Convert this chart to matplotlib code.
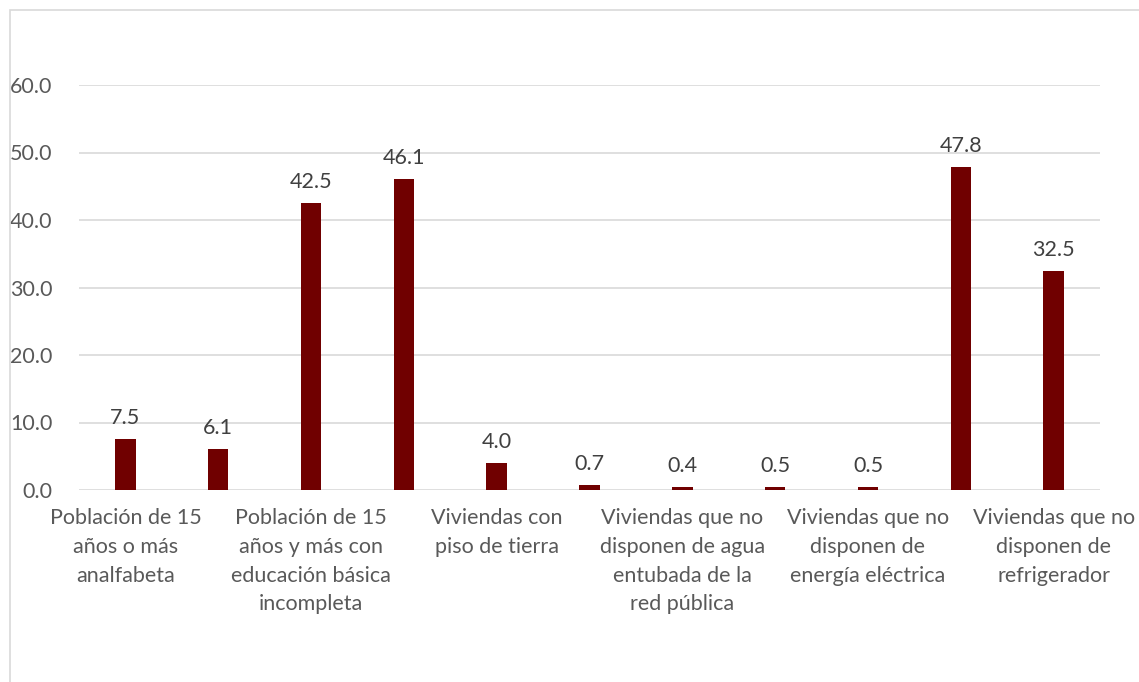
import matplotlib.pyplot as plt
from matplotlib.patches import Rectangle

# 11 categories; Excel only showed every other label
values = [7.5, 6.1, 42.5, 46.1, 4.0, 0.7, 0.4, 0.5, 0.5, 47.8, 32.5]
shown_labels = [
    "Población de 15\naños o más\nanalfabeta",
    "Población de 15\naños y más con\neducación básica\nincompleta",
    "Viviendas con\npiso de tierra",
    "Viviendas que no\ndisponen de agua\nentubada de la\nred pública",
    "Viviendas que no\ndisponen de\nenergía eléctrica",
    "Viviendas que no\ndisponen de\nrefrigerador",
]
yticks = [0, 10, 20, 30, 40, 50, 60]

bar_color = '#700000'
text_color = '#595959'
grid_color = '#d9d9d9'

plt.rcParams['font.family'] = ['Lato', 'DejaVu Sans']

fig = plt.figure(figsize=(11.39, 6.82), dpi=100)
W, H = 1139, 682
ax = fig.add_axes([79 / W, 1 - 490 / H, (1100 - 79) / W, (490 - 85) / H])

x = list(range(len(values)))
bars = ax.bar(x, values, width=0.22, color=bar_color, zorder=3)
for b, v in zip(bars, values):
    ax.annotate(f'{v:.1f}', (b.get_x() + b.get_width() / 2, v),
                xytext=(0, 8), textcoords='offset points',
                ha='center', va='bottom', fontsize=15.5, color='#404040')

ax.set_xlim(-0.5, len(values) - 0.5)
ax.set_ylim(0, 60)
ax.set_yticks(yticks)
ax.set_yticklabels([f'{t:.1f}' for t in yticks], fontsize=15.5, color=text_color)
ax.yaxis.grid(True, color=grid_color, linewidth=1.2, zorder=0)
ax.tick_params(axis='y', length=0, pad=19)

ax.set_xticks(x[::2])
ax.set_xticklabels(shown_labels, fontsize=15.5, color=text_color, linespacing=1.55)
ax.tick_params(axis='x', length=0, pad=13)

for s in ax.spines.values():
    s.set_visible(False)

# chart area border (cut off at right and bottom)
fig.patches.append(Rectangle((10 / W, -0.1), 1.2, 1 - 10 / H + 0.1,
                             transform=fig.transFigure, fill=False,
                             edgecolor='#d9d9d9', linewidth=1.2))

fig.savefig('out.png', dpi=100)
